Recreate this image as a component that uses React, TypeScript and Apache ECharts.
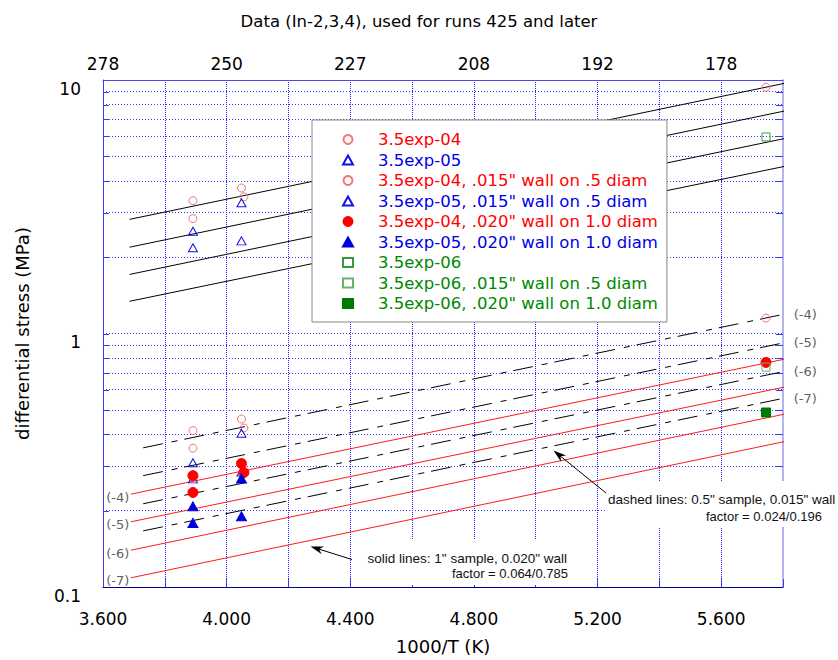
import { useEffect, useRef } from 'react';
import * as echarts from 'echarts';

// ---------- data ----------
const X_MIN = 3.6;
const X_MAX = 5.8;
const X_STEP = 0.2;
const LABEL_STEP = 0.4;
const bottomTickLabels = ['3.600', '4.000', '4.400', '4.800', '5.200', '5.600'];
const topTickLabels = ['278', '250', '227', '208', '192', '178'];
const minorGridValues = [0.2, 0.3, 0.4, 0.5, 0.6, 0.7, 0.8, 0.9, 1, 2, 3, 4, 5, 6, 7, 8, 9];

const seriesNames = [
  '3.5exp-04',
  '3.5exp-05',
  '3.5exp-04, .015" wall on .5 diam',
  '3.5exp-05, .015" wall on .5 diam',
  '3.5exp-04, .020" wall on 1.0 diam',
  '3.5exp-05, .020" wall on 1.0 diam',
  '3.5exp-06',
  '3.5exp-06, .015" wall on .5 diam',
  '3.5exp-06, .020" wall on 1.0 diam',
];
const s1 = [[3.891, 3.34], [3.891, 2.84], [4.048, 3.75], [4.056, 3.46], [5.745, 9.37]];
const s2 = [[3.891, 2.53], [3.891, 2.18], [4.048, 3.28], [4.048, 2.32]];
const s3 = [[3.891, 0.414], [3.891, 0.353], [4.048, 0.46], [4.056, 0.424], [5.745, 1.151]];
const s4 = [[3.891, 0.309], [3.891, 0.267], [4.048, 0.404], [4.048, 0.284]];
const s5 = [[3.891, 0.275], [3.891, 0.236], [4.048, 0.307], [4.056, 0.283], [5.745, 0.769]];
const s6 = [[3.891, 0.208], [3.891, 0.179], [4.048, 0.268], [4.048, 0.19]];
const s7 = [[5.745, 5.96]];
const s8 = [[5.745, 0.737]];
const s9 = [[5.745, 0.488]];
const seriesData = [s1, s2, s3, s4, s5, s6, s7, s8, s9];

const fitLabels = ['(-4)', '(-5)', '(-6)', '(-7)'];
const blackX = [3.686, 5.815];
const blackStart = [2.82, 2.19, 1.71, 1.34];
const blackEnd = [9.76, 7.59, 5.91, 4.59];
const dashedX = [3.73, 5.82];
const dashedStart = [0.354, 0.275, 0.213, 0.1665];
const dashedEnd = [1.203, 0.928, 0.715, 0.561];
const redX = [3.69, 5.82];
const redStart = [0.2325, 0.1808, 0.1397, 0.1087];
const redEnd = [0.799, 0.62, 0.485, 0.378];

// ---------- styles ----------
const FONT = 'DejaVu Sans';
const GRID_COLOR = '#1f1fff';
const H_GRID_COLOR = '#3a3aff';
const AXIS_BLUE = '#3a3af0';
const markerStyles = [
  { symbol: 'circle', size: 8, fill: 'rgba(0,0,0,0)', stroke: '#f07878' },
  { symbol: 'triangle', size: [9, 8], fill: 'rgba(0,0,0,0)', stroke: '#1010e8' },
  { symbol: 'circle', size: 8, fill: 'rgba(0,0,0,0)', stroke: '#f07878' },
  { symbol: 'triangle', size: [9, 8], fill: 'rgba(0,0,0,0)', stroke: '#1010e8' },
  { symbol: 'circle', size: 10, fill: '#ff0000', stroke: '#ff0000' },
  { symbol: 'triangle', size: [10, 9], fill: '#0000dd', stroke: '#0000dd' },
  { symbol: 'rect', size: 8, fill: 'rgba(0,0,0,0)', stroke: '#3a9a3a' },
  { symbol: 'rect', size: 8, fill: 'rgba(0,0,0,0)', stroke: '#6ab46a' },
  { symbol: 'rect', size: 9, fill: '#007a00', stroke: '#007a00' },
];
const legendTextColors = ['#ff0000', '#0000e8', '#ff0000', '#0000e8', '#ff0000', '#0000e8', '#008800', '#008800', '#008800'];

function tickLabel(v: number, labels: string[]) {
  const idx = Math.round((v - X_MIN) / LABEL_STEP);
  if (Math.abs(v - (X_MIN + idx * LABEL_STEP)) < 1e-6 && idx >= 0 && idx < labels.length) return labels[idx];
  return '';
}

function arrow(tail: number[], tip: number[]) {
  const dx = tip[0] - tail[0];
  const dy = tip[1] - tail[1];
  const len = Math.sqrt(dx * dx + dy * dy);
  const ux = dx / len;
  const uy = dy / len;
  const px = -uy;
  const py = ux;
  const L = 13;
  const W = 4;
  const N = 9;
  const bx = tip[0] - ux * L;
  const by = tip[1] - uy * L;
  return [
    { type: 'line', z: 5, silent: true, shape: { x1: tail[0], y1: tail[1], x2: tip[0] - ux * 6, y2: tip[1] - uy * 6 }, style: { stroke: '#000', lineWidth: 1 } },
    {
      type: 'polygon', z: 5, silent: true,
      shape: { points: [tip, [bx + px * W, by + py * W], [tip[0] - ux * N, tip[1] - uy * N], [bx - px * W, by - py * W]] },
      style: { fill: '#000' },
    },
  ];
}

export default function App() {
  const ref = useRef<HTMLDivElement>(null);
  useEffect(() => {
    if (!ref.current) return;
    const chart = echarts.init(ref.current, undefined, { renderer: 'svg' });

    const lineSeries: any[] = [];
    const mk = (name: string, xs: number[], y0: number, y1: number, style: any) => ({
      type: 'line', name, data: [[xs[0], y0], [xs[1], y1]], symbol: 'none', clip: false, silent: true, z: 2,
      lineStyle: style,
    });
    blackStart.forEach((v, i) => lineSeries.push(mk('black fit ' + fitLabels[i], blackX, v, blackEnd[i], { color: '#000', width: 1 })));
    dashedStart.forEach((v, i) => lineSeries.push(mk('dashed fit ' + fitLabels[i], dashedX, v, dashedEnd[i], { color: '#000', width: 1, type: [20, 9, 6, 7] })));
    redStart.forEach((v, i) => lineSeries.push(mk('red fit ' + fitLabels[i], redX, v, redEnd[i], { color: '#ff1a1a', width: 1 })));

    const labelCommon = { show: true, color: '#333', fontSize: 13, fontFamily: FONT, distance: 2 };
    const leftLabels = {
      type: 'scatter', name: 'red fit labels', silent: true, clip: false, z: 3,
      symbol: 'circle', symbolSize: 1, itemStyle: { color: 'rgba(0,0,0,0)' },
      label: { ...labelCommon, position: 'left', distance: 1, offset: [0, 3] },
      data: redStart.map((v, i) => ({ value: [redX[0], v], label: { formatter: fitLabels[i] } })),
    };
    const rightLabels = {
      type: 'scatter', name: 'dashed fit labels', silent: true, clip: false, z: 3,
      symbol: 'circle', symbolSize: 1, itemStyle: { color: 'rgba(0,0,0,0)' },
      label: { ...labelCommon, position: 'right', distance: 4, offset: [0, 1] },
      data: dashedEnd.map((v, i) => ({ value: [dashedX[1], v], label: { formatter: fitLabels[i] } })),
    };

    const scatterSeries = seriesData.map((d, i) => ({
      type: 'scatter', name: seriesNames[i], data: d, z: 3,
      symbol: markerStyles[i].symbol, symbolSize: markerStyles[i].size,
      itemStyle: { color: markerStyles[i].fill, borderColor: markerStyles[i].stroke, borderWidth: 1, opacity: 1 },
      clip: false,
    }));

    // minor horizontal grid lines (log decades 2..9) via markLine, with short inward ticks via custom series
    const gridLinesSeries = {
      type: 'scatter', name: 'minor grid lines', silent: true, z: 1,
      symbolSize: 0, data: [[X_MIN, 1]], itemStyle: { color: 'rgba(0,0,0,0)' },
      markLine: {
        silent: true, symbol: ['none', 'none'], animation: false, z: 1,
        label: { show: false },
        lineStyle: { color: H_GRID_COLOR, width: 1, type: [1, 2], opacity: 1 },
        emphasis: { disabled: true },
        data: minorGridValues.map((v) => ({ yAxis: v })),
      },
    };
    const gridTicksSeries = {
      type: 'custom', name: 'minor grid ticks', silent: true, z: 1, clip: false,
      itemStyle: { color: AXIS_BLUE },
      data: minorGridValues.map((v) => [X_MIN, v]),
      renderItem: (_p: any, api: any) => {
        const v = api.value(1);
        const a = api.coord([X_MIN, v]);
        const b = api.coord([X_MAX, v]);
        const y = Math.round(a[1]) + 0.5;
        return {
          type: 'group',
          children: [
            { type: 'rect', shape: { x: a[0], y: y - 0.5, width: 6, height: 1 }, style: { fill: AXIS_BLUE } },
            { type: 'rect', shape: { x: b[0] - 7, y: y - 0.5, width: 7, height: 1 }, style: { fill: AXIS_BLUE } },
          ],
        };
      },
    };

    const tickFont = { fontFamily: FONT, fontSize: 17, color: '#000' };

    chart.setOption({
      animation: false,
      backgroundColor: '#fff',
      title: {
        text: 'Data (In-2,3,4), used for runs 425 and later',
        left: 'center', top: 8,
        textStyle: { fontFamily: FONT, fontSize: 16.5, fontWeight: 'normal', color: '#000' },
      },
      grid: { left: 103, right: 55, top: 80, bottom: 67, containLabel: false },
      legend: {
        orient: 'vertical', left: 312, top: 120,
        padding: [11, 9, 10, 30], itemWidth: 10, itemHeight: 9, itemGap: 3.5,
        backgroundColor: '#fff', borderColor: '#888', borderWidth: 1, borderRadius: 0,
        selectedMode: false,
        textStyle: { fontFamily: FONT, fontSize: 16.5, lineHeight: 16, padding: [0, 0, 0, 20] },
        data: seriesNames.map((n, i) => ({ name: n, textStyle: { color: legendTextColors[i] } })),
      },
      xAxis: [
        {
          type: 'value', position: 'bottom', min: X_MIN, max: X_MAX, interval: X_STEP,
          name: '1000/T (K)', nameLocation: 'middle', nameGap: 50,
          nameTextStyle: { fontFamily: FONT, fontSize: 18, color: '#000' },
          axisLine: { show: true, onZero: false, lineStyle: { color: '#00009a', width: 1 } },
          axisTick: { show: true, inside: true, length: 8, lineStyle: { color: AXIS_BLUE } },
          axisLabel: { ...tickFont, margin: 23, formatter: (v: number) => tickLabel(v, bottomTickLabels) },
          splitLine: { show: true, showMinLine: false, showMaxLine: false, lineStyle: { color: GRID_COLOR, width: 1, type: [1, 1] } },
        },
        {
          type: 'value', position: 'top', min: X_MIN, max: X_MAX, interval: X_STEP,
          axisLine: { show: true, onZero: false, lineStyle: { color: '#4a4af0', width: 1 } },
          axisTick: { show: false },
          axisLabel: { ...tickFont, margin: 8, formatter: (v: number) => tickLabel(v, topTickLabels) },
          splitLine: { show: false },
        },
      ],
      yAxis: [
        {
          type: 'log', logBase: 10, min: 0.1, max: 10, position: 'left',
          name: 'differential stress (MPa)', nameLocation: 'middle', nameGap: 72,
          nameTextStyle: { fontFamily: FONT, fontSize: 18, color: '#000' },
          axisLine: { show: true, onZero: false, lineStyle: { color: AXIS_BLUE, width: 1 } },
          axisTick: { show: false },
          axisLabel: { ...tickFont, margin: 22, verticalAlign: 'top', lineHeight: 17 },
          splitLine: { show: false },
        },
        {
          type: 'log', logBase: 10, min: 0.1, max: 10, position: 'right',
          axisLine: { show: true, onZero: false, lineStyle: { color: '#b4b4ee', width: 2 } },
          axisTick: { show: false },
          axisLabel: { show: false },
          splitLine: { show: false },
        },
      ],
      series: [gridLinesSeries, gridTicksSeries, ...lineSeries, ...scatterSeries, leftLabels, rightLabels],
      graphic: [
        { type: 'rect', z: 1.5, silent: true, shape: { x: 606, y: 481, width: 232, height: 46 }, style: { fill: '#fff' } },
        { type: 'rect', z: 1.5, silent: true, shape: { x: 360, y: 539, width: 213, height: 46 }, style: { fill: '#fff' } },
        { type: 'text', z: 5, silent: true, x: 608, y: 499.5, style: { text: 'dashed lines: 0.5" sample, 0.015" wall', fill: '#111', font: '13.5px "Liberation Sans"', align: 'left', verticalAlign: 'middle' } },
        { type: 'text', z: 5, silent: true, x: 706, y: 516, style: { text: 'factor = 0.024/0.196', fill: '#111', font: '13px "Liberation Sans"', align: 'left', verticalAlign: 'middle' } },
        { type: 'text', z: 5, silent: true, x: 567, y: 558.5, style: { text: 'solid lines: 1" sample, 0.020" wall', fill: '#111', font: '13.5px "Liberation Sans"', align: 'right', verticalAlign: 'middle' } },
        { type: 'text', z: 5, silent: true, x: 568, y: 573, style: { text: 'factor = 0.064/0.785', fill: '#111', font: '13px "Liberation Sans"', align: 'right', verticalAlign: 'middle' } },
        ...arrow([606, 493], [553.5, 450.5]),
        ...arrow([352, 559.5], [310.5, 546.5]),
      ],
    });
    return () => chart.dispose();
  }, []);
  return <div ref={ref} style={{ position: 'absolute', left: 0, top: 0, width: 838, height: 660, background: '#fff' }} />;
}
